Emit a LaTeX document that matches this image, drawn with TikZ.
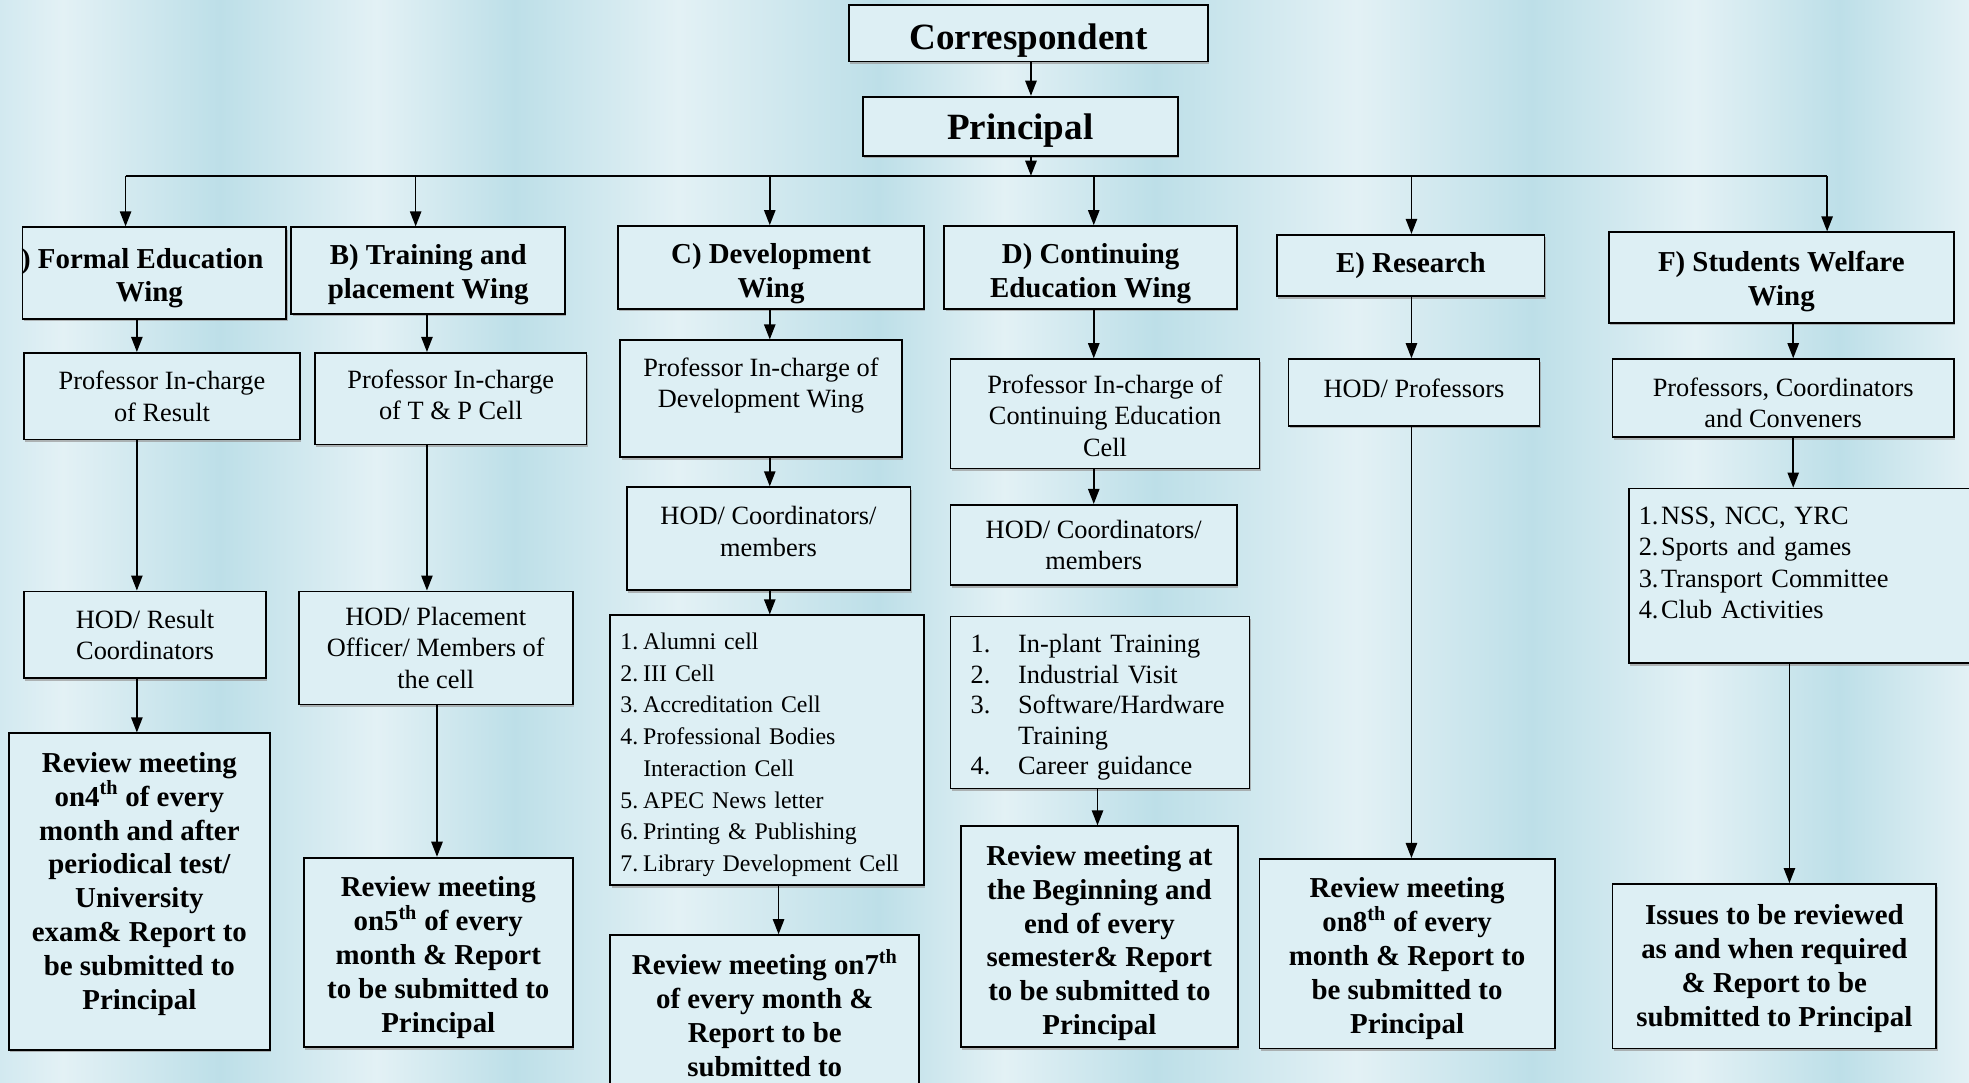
\documentclass[tikz,border=0pt]{standalone}
\usepackage{fontspec}
\setmainfont{Liberation Serif}
\usetikzlibrary{arrows.meta,shadows}

\definecolor{bglight}{RGB}{227,241,245}
\definecolor{bgdark}{RGB}{189,223,232}
\definecolor{bgmid}{RGB}{210,233,240}
\definecolor{boxfill}{RGB}{221,239,244}

\tikzset{
  box/.style={draw=black,line width=1.4pt,fill=boxfill,inner sep=2pt,align=center,
    drop shadow={shadow xshift=1pt,shadow yshift=-2pt,fill=black!40,opacity=.7}},
  headbox/.style={box,font=\bfseries\fontsize{29.5}{34}\selectfont},
  wingtext/.style={font=\bfseries\fontsize{23}{27}\selectfont,align=center,inner sep=0pt},
  wing/.style={box,font=\bfseries\fontsize{23}{27}\selectfont},
  staff/.style={box,font=\fontsize{21}{25}\selectfont},
  review/.style={box,font=\bfseries\fontsize{23}{27}\selectfont},
  textdown/.style={execute at begin node={\rule{0pt}{#1}}},
  textup/.style={execute at end node={\rule[-#1]{0pt}{#1}}},
  arr/.style={-{Triangle[length=12pt,width=9pt]},line width=1.3pt}
}

\begin{document}
\begin{tikzpicture}[x=1pt,y=-1pt]
  \useasboundingbox (0,0) rectangle (1568,862);
  \clip (0,0) rectangle (1568,862);

  % background bands
  \foreach \xa/\ca/\xb/\cb in {0/bgmid/50/bglight, 50/bglight/175/bgdark,
      175/bgdark/300/bglight, 300/bglight/410/bgdark, 410/bgdark/540/bglight,
      540/bglight/700/bgdark, 700/bgdark/800/bglight, 800/bglight/920/bgdark,
      920/bgdark/1080/bglight, 1080/bglight/1220/bgdark, 1220/bgdark/1350/bglight,
      1350/bglight/1465/bgdark, 1465/bgdark/1568/bglight}
    \shade[left color=\ca,right color=\cb] (\xa-0.5,0) rectangle (\xb+0.5,862);

  % top
  \node[headbox,textdown=32pt,minimum width=286pt,minimum height=45pt] (Corr) at (819,26.5) {Correspondent};
  \node[headbox,textdown=28pt,minimum width=251pt,minimum height=47pt] (Prin) at (812.5,100.5) {Principal};

  % wings
  \node[wing,minimum width=210pt,minimum height=73pt] (A) at (123,217.5) {};
  \begin{scope}
    \clip (A.south west) rectangle (A.north east);
    \node[wingtext] (Atext) at ([xshift=-18pt,yshift=-4pt]A.center) {A) Formal Education\\\hspace*{28pt}Wing};
  \end{scope}
  \node[wing,textdown=49pt,minimum width=218pt,minimum height=69pt] (B) at (341,215.5) {B) Training and\\placement Wing};
  \node[wing,textdown=53pt,minimum width=244pt,minimum height=66pt] (C) at (614,213) {C) Development\\Wing};
  \node[wing,textdown=53pt,minimum width=233pt,minimum height=66pt] (D) at (868.5,213) {D) Continuing\\Education Wing};
  \node[wing,minimum width=213pt,minimum height=49pt] (E) at (1123.5,211.5) {E) Research};
  \node[wing,textdown=49pt,minimum width=275pt,minimum height=72pt] (F) at (1418.5,221) {F) Students Welfare\\Wing};

  % in-charge
  \node[staff,minimum width=220pt,minimum height=69pt] (A2) at (129,315.5) {Professor In-charge\\of Result};
  \node[staff,textup=6pt,minimum width=216pt,minimum height=73pt] (B2) at (359,317.5) {Professor In-charge\\of T \& P Cell};
  \node[staff,textdown=72pt,minimum width=224pt,minimum height=93pt] (C2) at (606,317.5) {Professor In-charge of\\Development Wing\\\strut};
  \node[staff,textdown=68pt,minimum width=246pt,minimum height=87pt] (D2) at (880,329.5) {Professor In-charge of\\Continuing Education\\Cell};
  \node[staff,textup=6pt,minimum width=200pt,minimum height=53pt] (E2) at (1126,312.5) {HOD/ Professors};
  \node[staff,textdown=47pt,minimum width=272pt,minimum height=62pt] (F2) at (1420,317) {Professors, Coordinators\\and Conveners};

  % coordinators
  \node[staff,minimum width=193pt,minimum height=69pt] (A3) at (115.5,505.5) {HOD/ Result\\Coordinators};
  \node[staff,minimum width=218pt,minimum height=90pt] (B3) at (347,516) {HOD/ Placement\\Officer/ Members of\\the cell};
  \node[staff,textup=12pt,minimum width=226pt,minimum height=82pt] (C3) at (612,429) {HOD/ Coordinators/\\members};
  \node[staff,minimum width=228pt,minimum height=64pt] (D3) at (871,434) {HOD/ Coordinators/\\members};

  % lists
  \node[staff,font=\fontsize{19}{25.3}\selectfont,align=left,text width=234pt,
        minimum width=250pt,minimum height=215pt] (C4) at (611,597.5)
    {\begin{tabular}{@{}l@{\hspace{4pt}}l@{}}
      1.\rule{0pt}{23.7pt}& Alumni cell\\ 2.& III Cell\\ 3.& Accreditation Cell\\
      4.& Professional Bodies\\ & Interaction Cell\\ 5.& APEC News letter\\
      6.& Printing \& Publishing\\ 7.& Library Development Cell
     \end{tabular}};
  \node[staff,font=\fontsize{21}{24.3}\selectfont,align=left,text width=206pt,
        minimum width=238pt,minimum height=137pt] (D4) at (876,559.5)
    {\begin{tabular}{@{}l@{\hspace{22pt}}l@{}}
      1.\rule{0pt}{25pt}& In-plant Training\\ 2.& Industrial Visit\\ 3.& Software/Hardware\\
      & Training\\ 4.& Career guidance
     \end{tabular}};
  \node[staff,align=left,text width=267pt,
        minimum width=283pt,minimum height=139pt] (F3) at (1438.5,458.5)
    {\begin{tabular}{@{}l@{\hspace{2pt}}l@{}}
      1.\rule{0pt}{25.5pt}& NSS, NCC, YRC\\ 2.& Sports and games\\ 3.& Transport Committee\\
      4.& Club Activities\\ &
     \end{tabular}};

  % reviews
  \node[review,textup=17pt,minimum width=208pt,minimum height=252pt] (A4) at (111,710)
    {Review meeting\\on4\textsuperscript{th} of every\\month and after\\periodical test/\\University\\exam\& Report to\\be submitted to\\Principal};
  \node[review,textdown=132pt,minimum width=214pt,minimum height=151pt] (B4) at (349,758.5)
    {Review meeting\\on5\textsuperscript{th} of every\\month \& Report\\to be submitted to\\Principal};
  \node[review,textup=4pt,minimum width=246pt,minimum height=128pt,anchor=north] (C5) at (609,744)
    {Review meeting on7\textsuperscript{th}\\of every month \&\\Report to be\\submitted to};
  \node[review,textdown=161pt,minimum width=221pt,minimum height=176pt] (D5) at (875.5,746)
    {Review meeting at\\the Beginning and\\end of every\\semester\& Report\\to be submitted to\\Principal};
  \node[review,textdown=132pt,minimum width=235pt,minimum height=151pt] (E3) at (1120.5,759.5)
    {Review meeting\\on8\textsuperscript{th} of every\\month \& Report to\\be submitted to\\Principal};
  \node[review,textdown=101pt,minimum width=258pt,minimum height=131pt] (F4) at (1413,769.5)
    {Issues to be reviewed\\as and when required\\\& Report to be\\submitted to Principal};

  % connectors
  \coordinate (bus) at (821,140);
  \coordinate (bA) at (100,140);
  \coordinate (bB) at (331,140);
  \coordinate (bC) at (613,140);
  \coordinate (bD) at (871,140);
  \coordinate (bE) at (1124,140);
  \coordinate (bF) at (1455,140);

  \draw[arr] ([xshift=2pt]Corr.south) -- ([xshift=2pt]Corr.south |- Prin.north);
  \draw[arr] (Prin.south -| bus) -- (bus);
  \draw[line width=1.3pt] (bA) -- (bF);
  \foreach \w in {A,B,C,D,E,F}
    \draw[arr] (b\w) -- (b\w |- \w.north);

  \foreach \a/\b/\x in {A/A2/109, A2/A3/109, A3/A4/109, B/B2/340, B2/B3/340, B3/B4/348,
      C/C2/613, C2/C3/613, C3/C4/613, C4/C5/620, D/D2/871, D2/D3/871, D4/D5/874,
      E/E2/1124, E2/E3/1124, F/F2/1428, F2/F3/1428, F3/F4/1425}
    \draw[arr] (\a.south -| \x,0) -- (\b.north -| \x,0);
\end{tikzpicture}
\end{document}
